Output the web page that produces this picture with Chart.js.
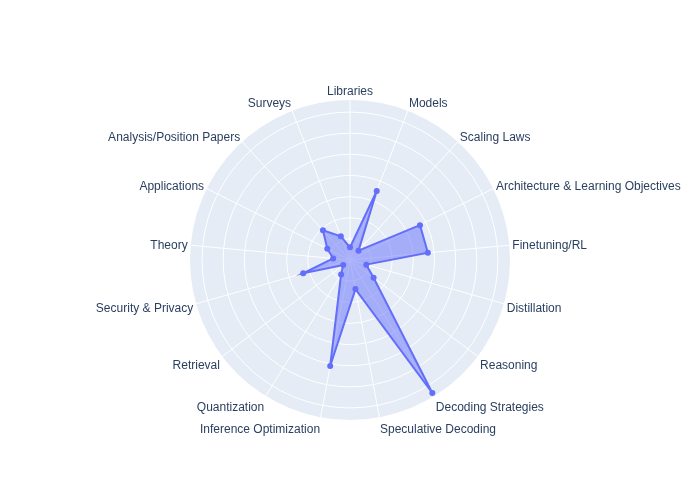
<!DOCTYPE html>
<html>
<head>
<meta charset="utf-8">
<script src="https://cdn.jsdelivr.net/npm/chart.js@4/dist/chart.umd.min.js"></script>
<style>
  html, body { margin: 0; padding: 0; background: #fff; }
  #wrap { width: 700px; height: 500px; }
</style>
</head>
<body>
<div id="wrap"><canvas id="radar" width="700" height="500"></canvas></div>
<script>
// categories, clockwise from the top
const categories = [
    'Libraries', 'Models', 'Scaling Laws', 'Architecture & Learning Objectives',
    'Finetuning/RL', 'Distillation', 'Reasoning', 'Decoding Strategies',
    'Speculative Decoding', 'Inference Optimization', 'Quantization', 'Retrieval',
    'Security & Privacy', 'Theory', 'Applications', 'Analysis/Position Papers', 'Surveys'
];
const counts = [6, 35, 6, 37, 37, 8, 14, 74, 14, 51, 8, 4, 23, 8, 12, 19, 12];
const radialMax = 75.7;
const radialStep = 10;

const labelFont = { family: '"Liberation Sans", Arial, sans-serif', size: 12 };

// plotly-like angular labels, placed off the scale's own point positions
const angularLabels = {
    id: 'angularLabels',
    afterDraw(chart) {
        const scale = chart.scales.r;
        const ctx = chart.ctx;
        const pad = 3;
        const fs = labelFont.size;
        ctx.save();
        ctx.font = fs + 'px ' + labelFont.family;
        ctx.fillStyle = '#2a3f5f';
        ctx.textBaseline = 'alphabetic';
        categories.forEach(function(label, i) {
            const p = scale.getPointPosition(i, scale.drawingArea);
            const a = scale.getIndexAngle(i) - Math.PI / 2;
            const c = Math.cos(a);
            const s = -Math.sin(a);
            const ff = s > 0 ? 0.2 : 1;
            const x = p.x + c * pad;
            const y = p.y - s * (pad + fs * ff) + Math.abs(c) * fs * 0.35;
            ctx.textAlign = Math.abs(c) < 0.1 ? 'center' : (c > 0 ? 'left' : 'right');
            ctx.fillText(label, x, y);
        });
        ctx.restore();
    }
};

const ctx = document.getElementById('radar').getContext('2d');
new Chart(ctx, {
    type: 'radar',
    data: {
        labels: categories,
        datasets: [{
            data: counts,
            borderColor: '#636efa',
            backgroundColor: 'rgba(99,110,250,0.5)',
            borderWidth: 2,
            fill: true,
            pointRadius: 3,
            pointBackgroundColor: '#636efa',
            pointBorderWidth: 0,
            tension: 0
        }]
    },
    options: {
        responsive: false,
        animation: false,
        devicePixelRatio: 1,
        layout: { padding: { top: 100, bottom: 80, left: 80, right: 80 } },
        plugins: {
            legend: { display: false },
            tooltip: { enabled: false }
        },
        scales: {
            r: {
                min: 0,
                max: radialMax,
                backgroundColor: '#E5ECF6',
                ticks: { display: false, stepSize: radialStep },
                pointLabels: { display: false },
                grid: {
                    circular: true,
                    lineWidth: 1,
                    color: function(c) {
                        return (c.tick && c.tick.value % radialStep === 0) ? '#ffffff' : 'rgba(0,0,0,0)';
                    }
                },
                angleLines: { color: '#ffffff', lineWidth: 1 }
            }
        }
    },
    plugins: [angularLabels]
});
</script>
</body>
</html>
